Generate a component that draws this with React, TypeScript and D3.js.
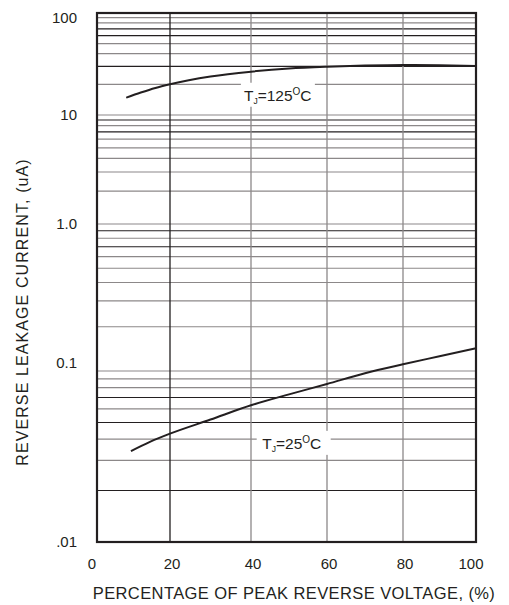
import * as d3 from "d3";
import React from "react";

// values
var pctHot = [8, 12, 16, 20, 30, 40, 50, 60, 70, 80, 90, 100];
var leakHot = [14.8, 16.6, 18.4, 20, 23.8, 26.6, 28.6, 29.8, 30.6, 31, 30.8, 30.2];

var pctCold = [9.3, 14.5, 20, 30, 40, 50, 60, 70, 80, 90, 100];
var leakCold = [0.034, 0.0385, 0.043, 0.052, 0.063, 0.073, 0.084, 0.097, 0.111, 0.126, 0.143];

var xTicks = [0, 20, 40, 60, 80, 100];
var yTicks = [0.01, 0.1, 1, 10, 100];
var yTickLabels = [".01", "0.1", "1.0", "10", "100"];
var decades = [0.01, 0.1, 1, 10];
// minor gridlines drawn darker in the scan (multiplier per decade)
var darkMinor = [[7, 5, 2], [9, 7], [9, 7], [3, 6, 7]];
var darkX = [20];

var width = 509;
var height = 605;
var ink = "#231f20";
var gridGray = "#8c8889";

// the printed chart has slightly uneven divisions, so the scales are piecewise
var xScale = d3.scaleLinear()
  .domain(xTicks)
  .range([97, 170, 251, 327, 403, 476]);

var yScale = d3.scaleLog()
  .domain(yTicks)
  .range([542, 371, 224, 115, 13]);

function App() {
  var line = d3.line<[number, number]>()
    .x((d) => xScale(d[0]))
    .y((d) => yScale(d[1]))
    .curve(d3.curveMonotoneX);

  var hot = line(pctHot.map((p, i) => [p, leakHot[i]] as [number, number]));
  var cold = line(pctCold.map((p, i) => [p, leakCold[i]] as [number, number]));

  var x0 = xScale(0);
  var x1 = xScale(100);
  var y0 = yScale(0.01);
  var y1 = yScale(100);

  var hLines: { v: number; dark: boolean }[] = [];
  decades.forEach((d, di) => {
    for (var k = 1; k <= 9; k++) {
      hLines.push({ v: k * d, dark: darkMinor[di].indexOf(k) >= 0 });
    }
  });

  var font = "'Liberation Sans', Arial, sans-serif";

  return (
    <svg width={width} height={height} style={{ position: "absolute", left: 0, top: 0 }}>
      <rect width={width} height={height} fill="#fff" />
      <g>
        {hLines.map((l, i) => (
          <line key={"h" + i} x1={x0} x2={x1} y1={yScale(l.v)} y2={yScale(l.v)}
            stroke={l.dark ? ink : gridGray} strokeWidth={1.2} />
        ))}
        {xTicks.slice(1, -1).map((t) => (
          <line key={"v" + t} x1={xScale(t)} x2={xScale(t)} y1={y1} y2={y0}
            stroke={darkX.indexOf(t) >= 0 ? ink : gridGray} strokeWidth={1.3} />
        ))}
      </g>

      <path d={hot || ""} fill="none" stroke={ink} strokeWidth={2} />
      <path d={cold || ""} fill="none" stroke={ink} strokeWidth={2} />

      <rect x={x0} y={y1} width={x1 - x0} height={y0 - y1} fill="none" stroke={ink} strokeWidth={2.2} />

      {/* curve labels */}
      <g fontFamily={font} fill={ink} fontSize={15.5}>
        <rect x={xScale(37.5)} y={yScale(15.8) - 12} width={74} height={24} fill="#fff" />
        <text x={xScale(38.5) - 1} y={yScale(15.8) + 6}>
          T<tspan fontSize={8.5} dy={3}>J</tspan>
          <tspan dy={-3}>=125</tspan>
          <tspan fontSize={10} dy={-6}>O</tspan>
          <tspan dy={6}>C</tspan>
        </text>
        <rect x={xScale(41.5)} y={yScale(0.038) - 12} width={74} height={24} fill="#fff" />
        <text x={xScale(43.5) - 2} y={yScale(0.038) + 6}>
          T<tspan fontSize={8.5} dy={3}>J</tspan>
          <tspan dy={-3}>=25</tspan>
          <tspan fontSize={10} dy={-6}>O</tspan>
          <tspan dy={6}>C</tspan>
        </text>
      </g>

      {/* axes text */}
      <g fontFamily={font} fill={ink} fontSize={15}>
        {yTicks.map((t, i) => (
          <text key={"yt" + t} x={77} y={yScale(t) + (t === 100 ? 10 : t === 0.1 ? -3 : 5)} textAnchor="end">
            {yTickLabels[i]}
          </text>
        ))}
        {xTicks.map((t) => (
          <text key={"xt" + t} x={xScale(t) - (t === 0 ? 5 : t === 100 ? 5 : -2)} y={569} textAnchor="middle">
            {t}
          </text>
        ))}
        <text x={294} y={599} textAnchor="middle" fontSize={16.5} letterSpacing={0.4}>
          PERCENTAGE OF PEAK REVERSE VOLTAGE, (%)
        </text>
        <text transform="translate(28,312) rotate(-90)" textAnchor="middle" fontSize={16} letterSpacing={1.1}>
          REVERSE LEAKAGE CURRENT, (uA)
        </text>
      </g>
    </svg>
  );
}

export default App;
